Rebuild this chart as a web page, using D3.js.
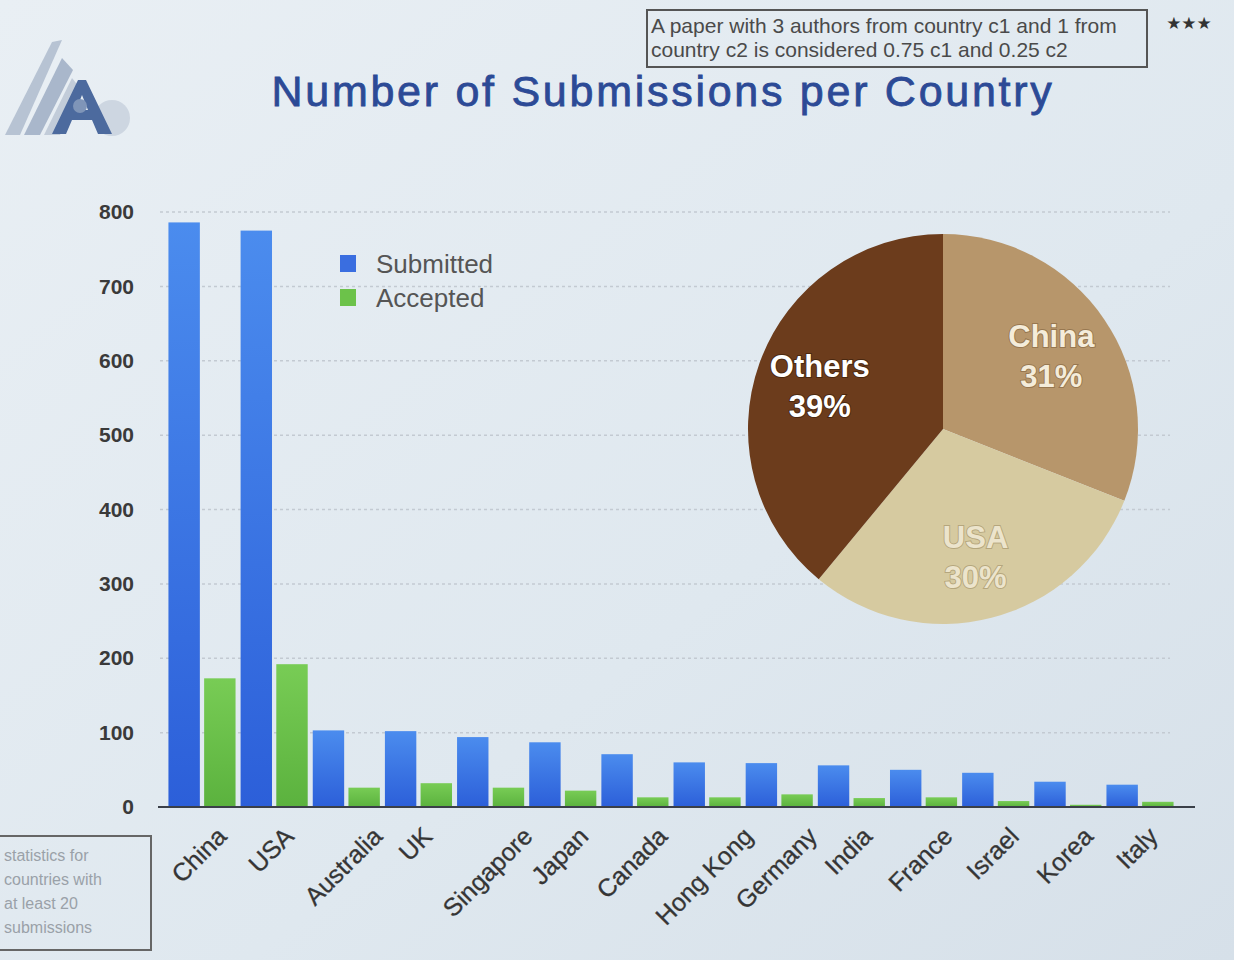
<!DOCTYPE html>
<html>
<head>
<meta charset="utf-8">
<script src="https://cdn.jsdelivr.net/npm/d3@7"></script>
<style>
  html, body { margin: 0; padding: 0; background: #dfe7ee; }
  svg { display: block; }
</style>
</head>
<body>
<div id="chart"></div>
<script>
var countries = ["China", "USA", "Australia", "UK", "Singapore", "Japan", "Canada", "Hong Kong", "Germany", "India", "France", "Israel", "Korea", "Italy"];
var submitted = [786, 775, 103, 102, 94, 87, 71, 60, 59, 56, 50, 46, 34, 30];
var accepted  = [173, 192, 26, 32, 26, 22, 13, 13, 17, 12, 13, 8, 3, 7];
var yTicks = [0, 100, 200, 300, 400, 500, 600, 700, 800];
var pieLabels = ["China", "USA", "Others"];
var pieShares = [31, 30, 39];
var pieColors = ["#b7966b", "#d6caa0", "#6c3c1c"];
var seriesNames = ["Submitted", "Accepted"];

var W = 1234, H = 960;
var FONT = "Liberation Sans, Arial, sans-serif";
var svg = d3.select("#chart").append("svg").attr("width", W).attr("height", H);

// fond + degrades
var defs = svg.append("defs");
var bg = defs.append("linearGradient").attr("id", "bg").attr("x1", 0).attr("y1", 0).attr("x2", 1).attr("y2", 1);
bg.append("stop").attr("offset", "0%").attr("stop-color", "#e9eff4");
bg.append("stop").attr("offset", "60%").attr("stop-color", "#dfe8ef");
bg.append("stop").attr("offset", "100%").attr("stop-color", "#d6e0e9");
var gb = defs.append("linearGradient").attr("id", "blueGrad").attr("x1", 0).attr("y1", 0).attr("x2", 0).attr("y2", 1);
gb.append("stop").attr("offset", "0%").attr("stop-color", "#4b8cee");
gb.append("stop").attr("offset", "100%").attr("stop-color", "#2c5fd9");
var gg = defs.append("linearGradient").attr("id", "greenGrad").attr("x1", 0).attr("y1", 0).attr("x2", 0).attr("y2", 1);
gg.append("stop").attr("offset", "0%").attr("stop-color", "#78cc55");
gg.append("stop").attr("offset", "100%").attr("stop-color", "#5bb23e");
svg.append("rect").attr("width", W).attr("height", H).attr("fill", "url(#bg)");

// logo
var logo = svg.append("g");
logo.append("path").attr("d", "M5,135 L52,42 L62,40 L20,135 Z").attr("fill", "#b7c3d3");
logo.append("path").attr("d", "M24,135 L62,58 L73,70 L40,135 Z").attr("fill", "#a9b7cb");
logo.append("path").attr("d", "M44,135 L72,78 L80,88 L60,135 Z").attr("fill", "#c2ccd9");
logo.append("circle").attr("cx", 112).attr("cy", 118).attr("r", 18).attr("fill", "#cdd6e1");
logo.append("path").attr("d", "M52,134 L78,80 L86,80 L112,134 L98,134 L92,120 L72,120 L66,134 Z M76,110 L88,110 L82,95 Z")
  .attr("fill", "#4c6a9e").attr("fill-rule", "evenodd");
logo.append("circle").attr("cx", 80).attr("cy", 106).attr("r", 7).attr("fill", "#7f95b8");

// titre
var title = svg.append("text").attr("x", 663).attr("y", 106).attr("text-anchor", "middle")
  .style("font-family", FONT).style("font-size", "43px")
  .attr("fill", "#2c4a96").attr("stroke", "#2c4a96").attr("stroke-width", 0.8)
  .text("Number of Submissions per Country");
var tl = title.node().getComputedTextLength();
title.style("letter-spacing", ((783 - tl) / 33) + "px");

// note en haut a droite
svg.append("rect").attr("x", 647).attr("y", 10).attr("width", 500).attr("height", 57)
  .attr("fill", "none").attr("stroke", "#555").attr("stroke-width", 2);
var note = svg.append("text").style("font-family", FONT).style("font-size", "21px").attr("fill", "#4a4a4a");
note.append("tspan").attr("x", 651).attr("y", 33).text("A paper with 3 authors from country c1 and 1 from");
note.append("tspan").attr("x", 651).attr("y", 57).text("country c2 is considered 0.75 c1 and 0.25 c2");
svg.append("text").attr("x", 1189).attr("y", 29).attr("text-anchor", "middle")
  .style("font-family", "DejaVu Sans, sans-serif").style("font-size", "17px").attr("fill", "#333").text("★★★");

// note en bas a gauche
svg.append("rect").attr("x", -2).attr("y", 836).attr("width", 153).attr("height", 114)
  .attr("fill", "none").attr("stroke", "#666").attr("stroke-width", 2);
var note2 = svg.append("text").style("font-family", FONT).style("font-size", "16px").attr("fill", "#9aa1a8");
["statistics for", "countries with", "at least 20", "submissions"].forEach(function (t, i) {
  note2.append("tspan").attr("x", 4).attr("y", 861 + i * 24).text(t);
});

// echelles
var x0 = d3.scaleBand().domain(countries).range([167, 1175]).paddingInner(0.07).paddingOuter(0.02);
var x1 = d3.scaleBand().domain(seriesNames).range([0, x0.bandwidth()]).paddingInner(0.12);
var y = d3.scaleLinear().domain([0, 800]).range([807, 212]);

// grille
svg.append("g").selectAll("line").data(yTicks.slice(1)).enter().append("line")
  .attr("x1", 160).attr("x2", 1170)
  .attr("y1", function (d) { return y(d); }).attr("y2", function (d) { return y(d); })
  .attr("stroke", "#c3cad2").attr("stroke-width", 1.5).attr("stroke-dasharray", "3,3");

// axe y
var yAxis = d3.axisLeft(y).tickValues(yTicks).tickSize(0).tickPadding(0);
var ya = svg.append("g").attr("transform", "translate(134,0)").call(yAxis);
ya.select(".domain").remove();
ya.selectAll("text").style("font-family", FONT).style("font-size", "21px")
  .style("font-weight", "bold").attr("fill", "#3a3a3a");

// barres
var groups = svg.append("g").selectAll("g").data(countries).enter().append("g")
  .attr("transform", function (d) { return "translate(" + x0(d) + ",0)"; });
groups.append("rect")
  .attr("x", x1("Submitted")).attr("width", x1.bandwidth())
  .attr("y", function (d, i) { return y(submitted[i]); })
  .attr("height", function (d, i) { return y(0) - y(submitted[i]); })
  .attr("fill", "url(#blueGrad)");
groups.append("rect")
  .attr("x", x1("Accepted")).attr("width", x1.bandwidth())
  .attr("y", function (d, i) { return y(accepted[i]); })
  .attr("height", function (d, i) { return y(0) - y(accepted[i]); })
  .attr("fill", "url(#greenGrad)");

// axe x
svg.append("line").attr("x1", 158).attr("x2", 1195).attr("y1", y(0)).attr("y2", y(0))
  .attr("stroke", "#3a3f48").attr("stroke-width", 2);
// labels tournes, centres sous chaque groupe
var xl = svg.append("g").selectAll("text").data(countries).enter().append("text")
  .attr("text-anchor", "end")
  .style("font-family", FONT).style("font-size", "25px")
  .attr("fill", "#353535").attr("stroke", "#353535").attr("stroke-width", 0.3)
  .text(function (d) { return d; });
xl.attr("transform", function (d) {
  var L = this.getComputedTextLength();
  var cx = x0(d) + x0.bandwidth() / 2;
  return "translate(" + (cx + L * 0.354 + 3) + ",838) rotate(-45)";
});

// legende
var legend = svg.append("g").attr("transform", "translate(340,255)");
legend.selectAll("rect").data(seriesNames).enter().append("rect")
  .attr("x", 0).attr("y", function (d, i) { return i * 34; })
  .attr("width", 16).attr("height", 17)
  .attr("fill", function (d, i) { return i === 0 ? "#3a6ee0" : "#6cc24a"; });
legend.selectAll("text").data(seriesNames).enter().append("text")
  .attr("x", 36).attr("y", function (d, i) { return 18 + i * 34; })
  .style("font-family", FONT).style("font-size", "26px")
  .attr("fill", "#555").text(function (d) { return d; });

// camembert
var pie = d3.pie().sort(null).value(function (d) { return d; });
var arc = d3.arc().innerRadius(0).outerRadius(195);
var labelArc = d3.arc().innerRadius(0).outerRadius(262);
var pg = svg.append("g").attr("transform", "translate(943,429)");
var slices = pie(pieShares);
pg.selectAll("path").data(slices).enter().append("path")
  .attr("d", arc).attr("fill", function (d, i) { return pieColors[i]; });
var lblColor = ["#f4ecda", "#ece4cc", "#ffffff"];
var lblStroke = ["rgba(90,60,30,0.35)", "rgba(120,100,60,0.35)", "rgba(40,20,5,0.5)"];
slices.forEach(function (s, i) {
  var c = labelArc.centroid(s);
  var t = pg.append("text").attr("text-anchor", "middle")
    .style("font-family", FONT).style("font-size", "31px").style("font-weight", "bold")
    .attr("fill", lblColor[i]).style("paint-order", "stroke").attr("stroke", lblStroke[i]).attr("stroke-width", 2);
  t.append("tspan").attr("x", c[0]).attr("y", c[1] - 8).text(pieLabels[i]);
  t.append("tspan").attr("x", c[0]).attr("y", c[1] + 32).text(pieShares[i] + "%");
});
</script>
</body>
</html>
